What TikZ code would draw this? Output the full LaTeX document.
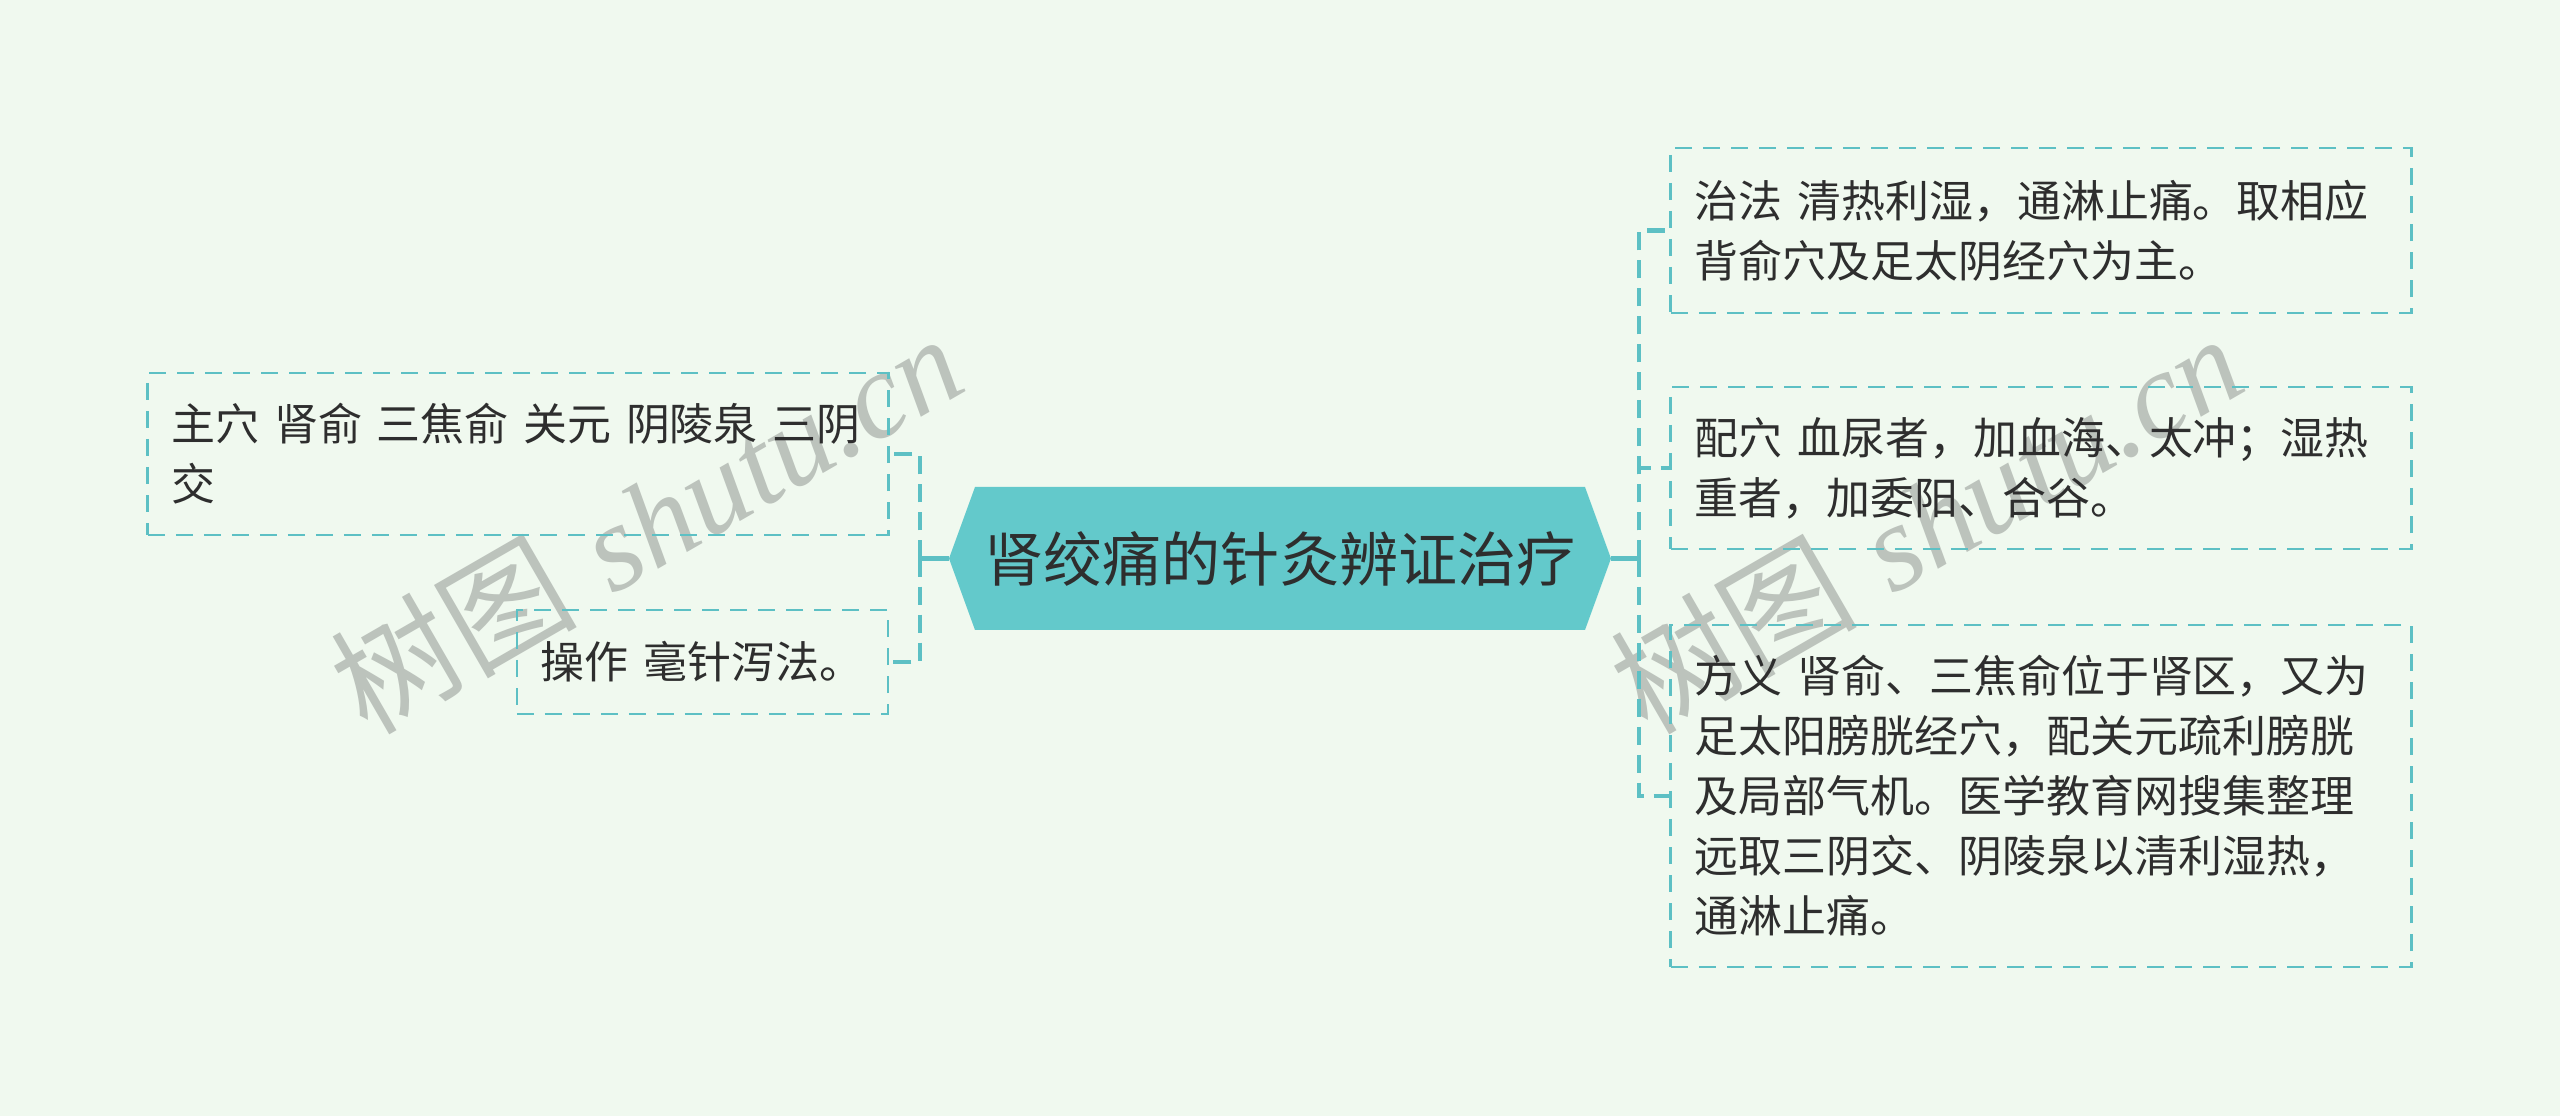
\documentclass[tikz,border=0pt]{standalone}
\usepackage{fontspec}
\newfontfamily\cjk{Noto Sans CJK SC}
\newfontfamily\wmlatin{Liberation Serif}
\usetikzlibrary{positioning}

\definecolor{bgmint}{HTML}{F0F9EF}
\definecolor{hexfill}{HTML}{63C9CB}
\definecolor{dashline}{HTML}{5DC0C4}
\definecolor{inkgray}{HTML}{2E2E2E}
\definecolor{markgray}{HTML}{BCC3BC}

\tikzset{
  leaf/.style={draw=dashline, line width=0.75pt, dash pattern=on 0.17cm off 0.11cm,
    text=inkgray, text width=#1, align=left, inner xsep=0.24cm, inner ysep=0pt,
    font=\cjk\fontsize{12.5}{17.07}\selectfont},
  link/.style={draw=dashline, line width=1.3pt, dash pattern=on 0.18cm off 0.1cm},
  trunk/.style={draw=dashline, line width=1.3pt},
  watermark/.style={text=markgray, rotate=30, font=\fontsize{35}{35}\selectfont}
}

\begin{document}
\begin{tikzpicture}[x=0.01cm,y=-0.01cm]
  \pgfmathsetmacro {\cy}{558.5} %root centre line
  \pgfmathsetmacro {\hl}{949}   %hexagon left tip
  \pgfmathsetmacro {\hr}{1611}  %hexagon right tip
  \pgfmathsetmacro {\hd}{26}    %tip depth
  \pgfmathsetmacro {\hh}{71.5}  %hexagon half height
  \pgfmathsetmacro {\rx}{2041}  %centre of right boxes

  \fill[bgmint] (0,0) rectangle (2560,1116) ; %Background
  \useasboundingbox (0,0) rectangle (2560,1116) ;

  %Watermarks
  \node[watermark] (mark1) at (646,522) {{\cjk 树图} {\wmlatin\itshape shutu.cn}};
  \node[watermark] (mark2) at (1926,522) {{\cjk 树图} {\wmlatin\itshape shutu.cn}};

  %Draw the root
  \fill[hexfill] (\hl,\cy) -- (\hl+\hd,\cy-\hh) -- (\hr-\hd,\cy-\hh) -- (\hr,\cy)
    -- (\hr-\hd,\cy+\hh) -- (\hl+\hd,\cy+\hh) -- cycle ;
  \node[text=inkgray, font=\cjk\fontsize{16.8}{20}\selectfont] (root) at (1280,\cy) {肾绞痛的针灸辨证治疗};
  \coordinate (rootW) at (\hl,\cy) ;
  \coordinate (rootE) at (\hr,\cy) ;
  \coordinate (jL) at (920,\cy) ;   %Left branch point
  \coordinate (jR) at (1639,\cy) ;  %Right branch point

  %Right boxes
  \node[leaf=6.92cm, minimum height=1.65cm] (zhifa) at (\rx,230.5)
    {治法 清热利湿，通淋止痛。取相应\\背俞穴及足太阴经穴为主。};
  \node[leaf=6.92cm, minimum height=1.62cm] (peixue) at (\rx,468)
    {配穴 血尿者，加血海、太冲；湿热\\重者，加委阳、合谷。};
  \node[leaf=6.92cm, minimum height=3.42cm] (fangyi) at (\rx,796)
    {方义 肾俞、三焦俞位于肾区，又为\\足太阳膀胱经穴，配关元疏利膀胱\\及局部气机。医学教育网搜集整理\\远取三阴交、阴陵泉以清利湿热，\\通淋止痛。};

  %Left boxes
  \node[leaf=6.92cm, minimum height=1.62cm] (zhuxue) at (518,454)
    {主穴 肾俞 三焦俞 关元 阴陵泉 三阴\\交};
  \node[leaf=3.23cm, minimum height=1.04cm] (caozuo) at (702.5,662)
    {操作 毫针泻法。};

  %Connectors to the right
  \draw[trunk] (rootE) -- (jR) ;
  \draw[link] (jR) |- (zhifa.west) ;
  \draw[link] (jR) |- (peixue.west) ;
  \draw[link] (jR) |- (fangyi.west) ;

  %Connectors to the left
  \draw[trunk] (rootW) -- (jL) ;
  \draw[link] (jL) |- (zhuxue.east) ;
  \draw[link] (jL) |- (caozuo.east) ;
\end{tikzpicture}
\end{document}
